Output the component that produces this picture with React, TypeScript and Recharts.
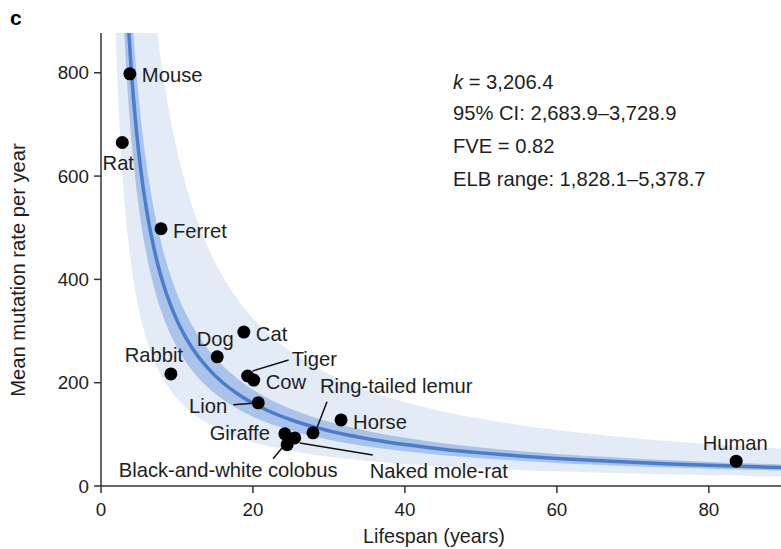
import React from 'react';
import { ComposedChart, Area, Line, Scatter, XAxis, YAxis } from 'recharts';

// ---- data ----
const species = [
  'Mouse', 'Rat', 'Ferret', 'Rabbit', 'Dog', 'Cat', 'Tiger', 'Cow', 'Lion',
  'Giraffe', 'Black-and-white colobus', 'Naked mole-rat', 'Ring-tailed lemur', 'Horse', 'Human',
];
const lifespanYears = [3.8, 2.8, 7.9, 9.2, 15.3, 18.8, 19.3, 20.1, 20.7, 24.2, 24.5, 25.5, 27.9, 31.6, 83.6];
const mutationsPerYear = [798, 665, 498, 217, 250, 298, 213, 205, 161, 101, 80, 93, 103, 128, 48];

const fitK = 3206.4;
const ciK = [2683.9, 3728.9];
const outerK = [1700, 6500];
const curveLifespan = [
  1.8, 1.9, 2, 2.1, 2.2, 2.4, 2.6, 2.8, 3, 3.3, 3.6, 4, 4.5, 5, 5.5, 6, 7, 8, 9, 10, 11, 12, 14, 16,
  18, 20, 22, 25, 28, 32, 36, 40, 45, 50, 55, 60, 65, 70, 75, 80, 85, 89.5,
];

const xTicks = [0, 20, 40, 60, 80];
const yTicks = [0, 200, 400, 600, 800];
const annotationLines = ['= 3,206.4', '95% CI: 2,683.9–3,728.9', 'FVE = 0.82', 'ELB range: 1,828.1–5,378.7'];

const curveData = curveLifespan.map((x) => ({
  x,
  fit: fitK / x,
  ci: [ciK[0] / x, ciK[1] / x],
  outer: [outerK[0] / x, outerK[1] / x],
}));
const pointData = species.map((name, i) => ({ name, x: lifespanYears[i], y: mutationsPerYear[i] }));

// ---- label layout (offsets relative to each dot) ----
type Lay = { dx: number; dy: number; anchor: 'start' | 'middle' | 'end'; leader?: [number, number, number, number] };
const labelLayout: Record<string, Lay> = {
  Mouse: { dx: 12, dy: 1, anchor: 'start' },
  Rat: { dx: -4, dy: 20, anchor: 'middle' },
  Ferret: { dx: 12, dy: 2, anchor: 'start' },
  Rabbit: { dx: -17, dy: -19, anchor: 'middle' },
  Dog: { dx: -2, dy: -18, anchor: 'middle' },
  Cat: { dx: 12, dy: 2, anchor: 'start' },
  Tiger: { dx: 44, dy: -17, anchor: 'start', leader: [5, -5, 41, -16] },
  Cow: { dx: 12, dy: 2, anchor: 'start' },
  Lion: { dx: -31, dy: 3, anchor: 'end', leader: [-25, 2, 0, 0] },
  'Ring-tailed lemur': { dx: 7, dy: -47, anchor: 'start', leader: [4, -5, 14, -31] },
  Horse: { dx: 12, dy: 2, anchor: 'start' },
  Giraffe: { dx: -15, dy: -1, anchor: 'end' },
  'Naked mole-rat': { dx: 75, dy: 33, anchor: 'start', leader: [5, 5, 78, 17] },
  'Black-and-white colobus': { dx: -59, dy: 25, anchor: 'middle', leader: [-5, 3, -14, 14] },
  Human: { dx: -1, dy: -18, anchor: 'middle' },
};

const FONT = '"Liberation Sans", Arial, Helvetica, sans-serif';
const TEXT = '#1e1e1e';
const AXIS = '#333';
const LABEL_SIZE = 20.2;

const PointShape = (props: any) => {
  const { cx, cy, payload } = props;
  if (cx == null || cy == null) return null;
  const lay = labelLayout[payload.name] || { dx: 12, dy: 0, anchor: 'start' };
  return (
    <g>
      {lay.leader && (
        <line
          x1={cx + lay.leader[0]}
          y1={cy + lay.leader[1]}
          x2={cx + lay.leader[2]}
          y2={cy + lay.leader[3]}
          stroke="#111"
          strokeWidth={1.5}
        />
      )}
      <circle cx={cx} cy={cy} r={6.5} fill="#000" />
      <text
        x={cx + lay.dx}
        y={cy + lay.dy}
        textAnchor={lay.anchor}
        dominantBaseline="central"
        fontFamily={FONT}
        fontSize={LABEL_SIZE}
        fill={TEXT}
      >
        {payload.name}
      </text>
    </g>
  );
};

export default function App() {
  return (
    <div style={{ position: 'absolute', left: 0, top: 0, width: 781, height: 549, background: '#fff' }}>
      <ComposedChart
        width={781}
        height={549}
        data={curveData}
        margin={{ top: 33, right: 0, bottom: 0, left: 0 }}
      >
        <XAxis
          dataKey="x"
          type="number"
          domain={[0, 89.5]}
          allowDataOverflow
          ticks={xTicks}
          height={63}
          tickSize={7}
          tickMargin={10}
          axisLine={{ stroke: AXIS, strokeWidth: 1.5 }}
          tickLine={{ stroke: AXIS, strokeWidth: 1.5 }}
          tick={{ fontFamily: FONT, fontSize: 18.8, fill: TEXT }}
        />
        <YAxis
          type="number"
          domain={[0, 877]}
          allowDataOverflow
          ticks={yTicks}
          width={101}
          tickSize={7}
          tickMargin={5}
          axisLine={{ stroke: AXIS, strokeWidth: 1.5 }}
          tickLine={{ stroke: AXIS, strokeWidth: 1.5 }}
          tick={{ fontFamily: FONT, fontSize: 18.8, fill: TEXT }}
        />
        <Area
          dataKey="outer"
          type="monotone"
          stroke="none"
          fill="#e3ebf7"
          fillOpacity={1}
          isAnimationActive={false}
        />
        <Area
          dataKey="ci"
          type="monotone"
          stroke="none"
          fill="#a9c3ea"
          fillOpacity={1}
          isAnimationActive={false}
        />
        <Line
          dataKey="fit"
          type="monotone"
          stroke="#4a7dcc"
          strokeWidth={3.5}
          dot={false}
          activeDot={false}
          isAnimationActive={false}
        />
        <Scatter data={pointData} dataKey="y" shape={PointShape} isAnimationActive={false} />
      </ComposedChart>
      <svg
        width={781}
        height={549}
        style={{ position: 'absolute', left: 0, top: 0, pointerEvents: 'none' }}
      >
        <text x={10} y={25} fontFamily={FONT} fontSize={21} fontWeight="bold" fill="#000">
          c
        </text>
        <text x={453} y={82} dominantBaseline="central" fontFamily={FONT} fontSize={LABEL_SIZE} fill={TEXT}>
          <tspan fontStyle="italic">k</tspan>
          <tspan> {annotationLines[0]}</tspan>
        </text>
        {annotationLines.slice(1).map((t, i) => (
          <text
            key={t}
            x={453}
            y={113 + i * 33}
            dominantBaseline="central"
            fontFamily={FONT}
            fontSize={LABEL_SIZE}
            fill={TEXT}
          >
            {t}
          </text>
        ))}
        <text
          x={434}
          y={536}
          textAnchor="middle"
          dominantBaseline="central"
          fontFamily={FONT}
          fontSize={19.8}
          fill={TEXT}
        >
          Lifespan (years)
        </text>
        <text
          transform="translate(18,270) rotate(-90)"
          textAnchor="middle"
          dominantBaseline="central"
          fontFamily={FONT}
          fontSize={20.2}
          fill={TEXT}
        >
          Mean mutation rate per year
        </text>
      </svg>
    </div>
  );
}
